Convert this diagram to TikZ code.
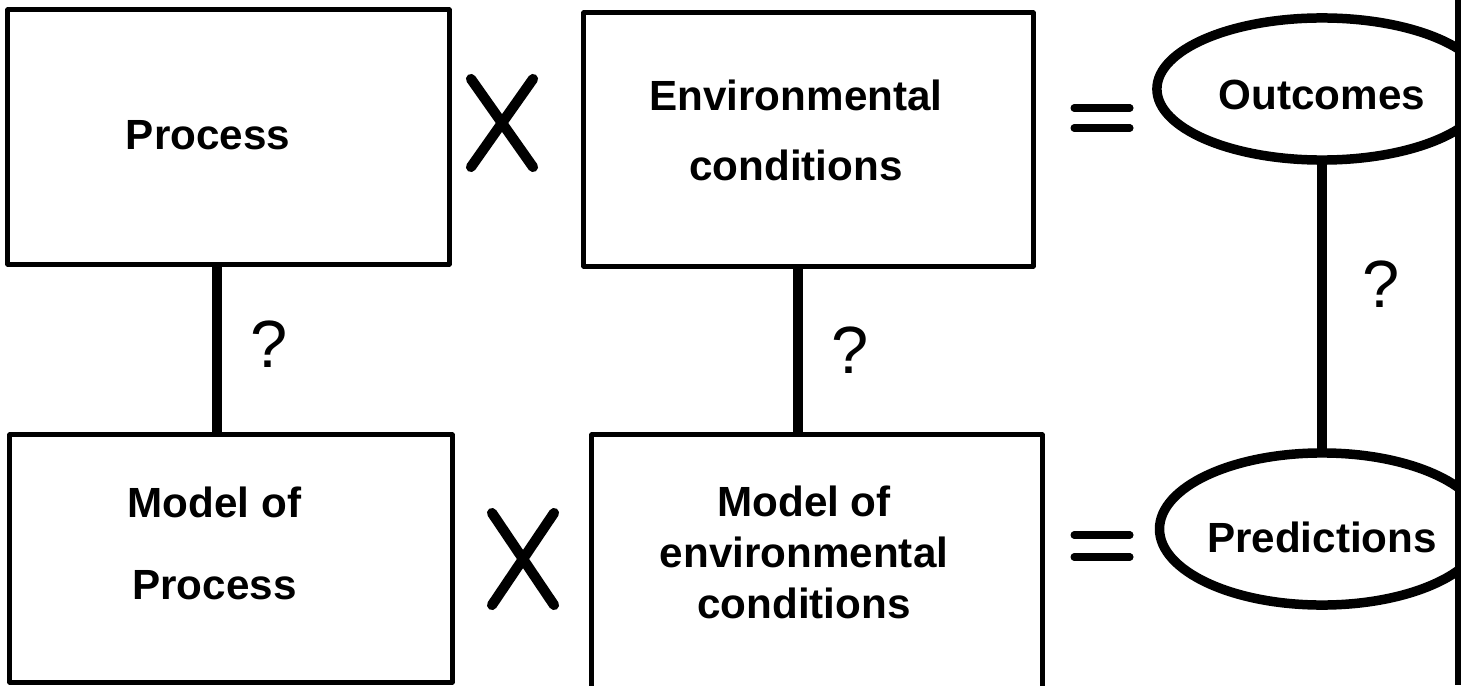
\documentclass[tikz,border=0pt]{standalone}
\usepackage{fontspec}
\setmainfont{Liberation Sans}
\usetikzlibrary{shapes.geometric}

\begin{document}
\begin{tikzpicture}[x=0.01cm, y=-0.01cm, line join=round]
	\tikzstyle{box}=[rectangle, draw=black, line width=1.4pt, inner sep=0pt]
	\tikzstyle{oval}=[ellipse, draw=black, line width=2.7pt, inner sep=0pt, font=\bfseries\fontsize{12}{14.4}\selectfont]
	\tikzstyle{annot}=[align=center, inner sep=0pt, font=\bfseries\fontsize{12}{14.4}\selectfont]
	\tikzstyle{link}=[line width=2.9pt]
	\tikzstyle{qmark}=[inner sep=0pt, font=\fontsize{19}{22}\selectfont]
	\tikzstyle{opline}=[line width=2.9pt, line cap=round]
	\tikzstyle{eqline}=[line width=2pt, line cap=round]

	\useasboundingbox (0,0) rectangle (1461,685);
	\clip (0,0) rectangle (1461,685);

	% Draw boxes
	\node[box, minimum width=4.41cm, minimum height=2.54cm] (process) at (228.5,137) {};
	\node[box, minimum width=4.49cm, minimum height=2.53cm] (envcond) at (808.5,139.5) {};
	\node[box, minimum width=4.42cm, minimum height=2.47cm] (modelproc) at (231,558.5) {};
	\node[box, minimum width=4.50cm, minimum height=2.65cm] (modelenv) at (817,567.5) {};

	% Box texts
	\node[annot] (processtext) at (208,135.5) {Process};
	\node[annot] (envtext) at (796,130) {Environmental\\[5.5pt]conditions};
	\node[annot] (modelproctext) at (214.5,543.5) {Model of\\[8.9pt]Process};
	\node[annot] (modelenvtext) at (804,552.5) {Model of\\environmental\\conditions};

	% Draw ovals
	\node[oval, minimum width=3.30cm, minimum height=1.42cm, text height=11.6pt, text depth=0pt] (outcomes) at (1322,89) {Outcomes};
	\node[oval, minimum width=3.18cm, minimum height=1.52cm, text height=13.4pt, text depth=0pt] (predictions) at (1322,529) {Predictions};

	% Draw links
	\coordinate (col1) at (217,0);
	\coordinate (col2) at (798,0);
	\draw[link] (process.south -| col1) -- node[qmark, pos=0.47, right=0.28cm] (ask1) {?} (modelproc.north -| col1);
	\draw[link] (envcond.south -| col2) -- node[qmark, pos=0.50, right=0.28cm] (ask2) {?} (modelenv.north -| col2);
	\draw[link] (outcomes) -- node[qmark, pos=0.42, right=0.35cm] (ask3) {?} (predictions);

	% Draw operators
	\coordinate (times1) at (502,123);
	\coordinate (times2) at (523,559);
	\draw[opline] (times1) ++(-31,-44) -- ++(62,88) (times1) ++(31,-44) -- ++(-62,88);
	\draw[opline] (times2) ++(-31,-46) -- ++(62,92) (times2) ++(31,-46) -- ++(-62,92);
	\coordinate (equal1) at (1102,118);
	\coordinate (equal2) at (1102,546);
	\draw[eqline] (equal1) ++(-28,-10) -- ++(56,0) (equal1) ++(-28,10) -- ++(56,0);
	\draw[eqline] (equal2) ++(-28,-11) -- ++(56,0) (equal2) ++(-28,11) -- ++(56,0);

	% Right edge
	\draw[line width=1.7pt] (1458,0) -- (1458,685);

\end{tikzpicture}
\end{document}
